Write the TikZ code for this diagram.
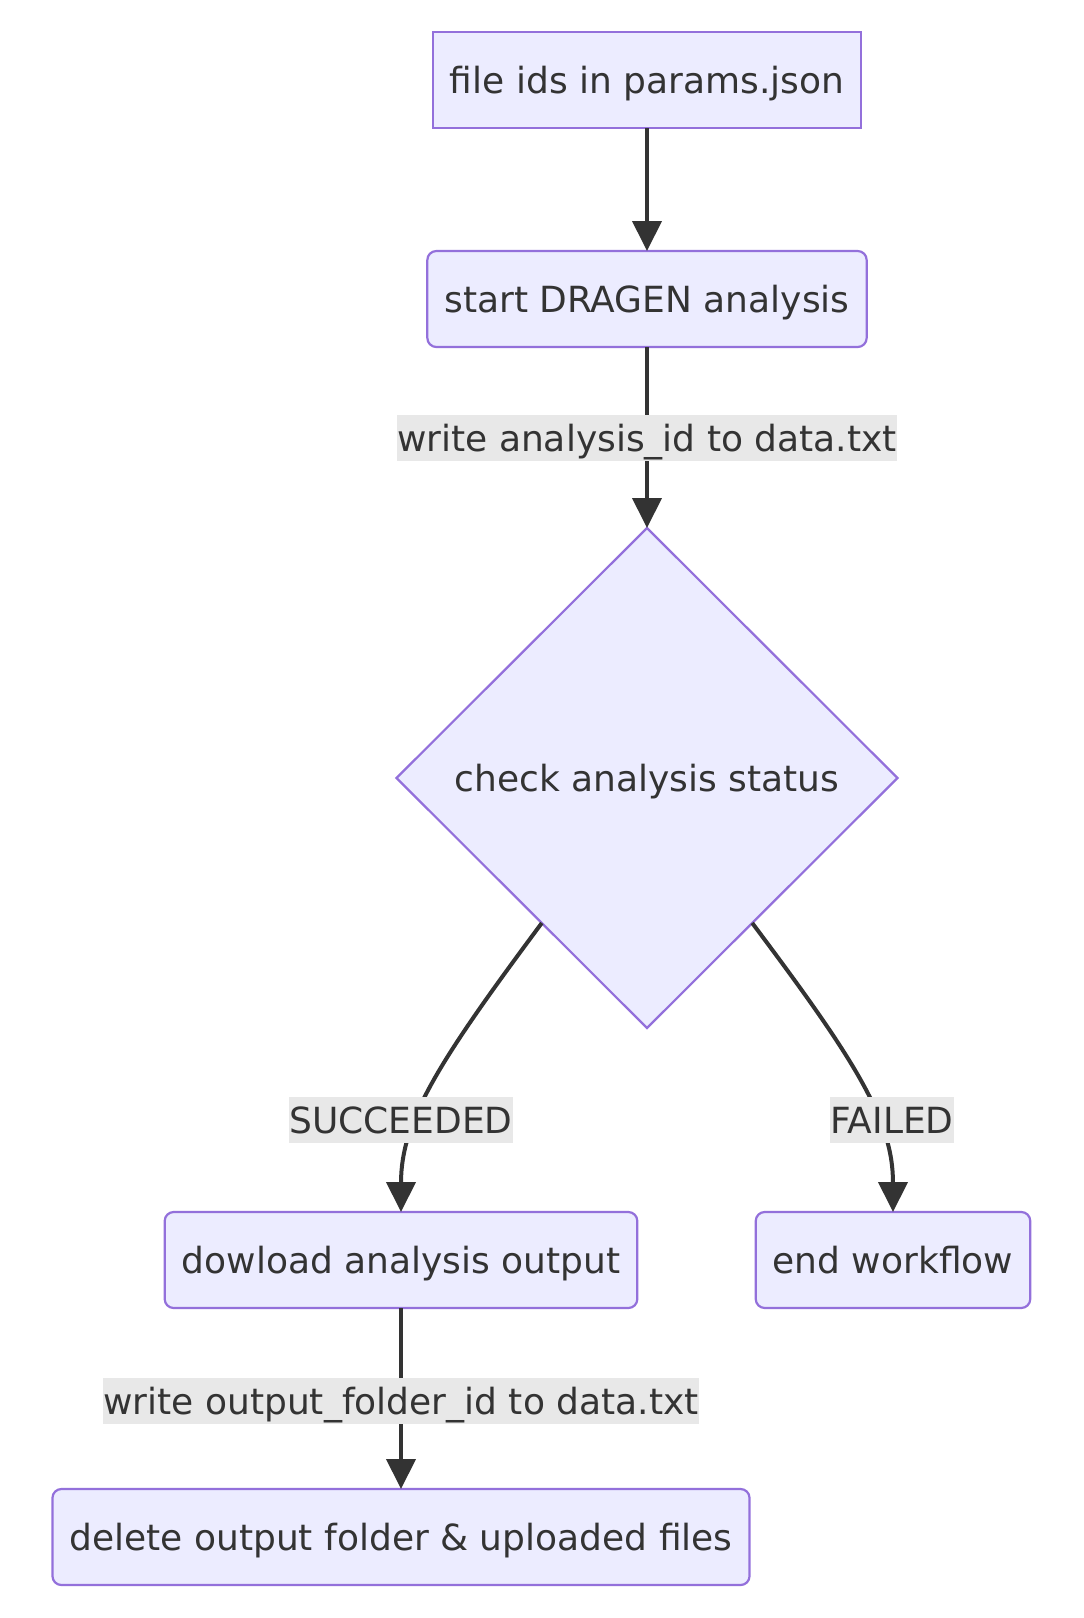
\documentclass[tikz,border=0pt]{standalone}
\usepackage{fontspec}
\newfontfamily\mmfont{DejaVu Sans}
\usetikzlibrary{arrows.meta,shapes.geometric,calc}
\definecolor{mmfill}{HTML}{ECECFF}
\definecolor{mmborder}{HTML}{9370DB}
\definecolor{mmline}{HTML}{333333}
\definecolor{mmlbl}{HTML}{E8E8E8}
\tikzset{
  stepbox/.style={draw=mmborder,fill=mmfill,line width=2.2pt,text=mmline,
    font=\mmfont\fontsize{36}{43}\selectfont,minimum height=96pt,
    text height=31pt,text depth=5pt,
    inner xsep=17pt,outer sep=0pt,rounded corners=9pt},
  inbox/.style={stepbox,rounded corners=0pt},
  decide/.style={diamond,draw=mmborder,fill=mmfill,line width=2.2pt,text=mmline,
    font=\mmfont\fontsize{36}{43}\selectfont,minimum width=501pt,
    text height=31pt,text depth=5pt,
    minimum height=500pt,inner sep=0pt,outer sep=0pt},
  edge/.style={draw=mmline,line width=4pt,-{Triangle[length=30pt,width=29pt]}},
  lbl/.style={fill=mmlbl,text=mmline,font=\mmfont\fontsize{36}{43}\selectfont,
    inner xsep=0pt,inner ysep=5pt,text height=31pt,text depth=5pt}
}
\begin{document}
\begin{tikzpicture}[x=1pt,y=-1pt]
\useasboundingbox (0,0) rectangle (1084,1618);

\node[inbox] (ids) at (647,80) {file ids in params.json};
\node[stepbox] (start) at (647,299) {start DRAGEN analysis};
\node[decide] (chk) at (647,778) {check analysis status};
\node[stepbox] (down) at (401,1260) {dowload analysis output};
\node[stepbox] (endwf) at (893,1260) {end workflow};
\node[stepbox] (del) at (401,1537) {delete output folder \& uploaded files};

\draw[edge] (ids.south) -- (start.north);
\draw[edge] (start.south) -- (chk.north);
\draw[edge] ($(chk.west)!0.58!(chk.south)$) .. controls (440,1060) and (401,1120) .. (down.north);
\draw[edge] ($(chk.east)!0.58!(chk.south)$) .. controls (855,1060) and (893,1120) .. (endwf.north);
\draw[edge] (down.south) -- (del.north);

\node[lbl] (wana) at (647,438) {write analysis\_id to data.txt};
\node[lbl] (succ) at (401,1120) {SUCCEEDED};
\node[lbl] (fail) at (892,1120) {FAILED};
\node[lbl] (wout) at (401,1401) {write output\_folder\_id to data.txt};
\end{tikzpicture}
\end{document}
